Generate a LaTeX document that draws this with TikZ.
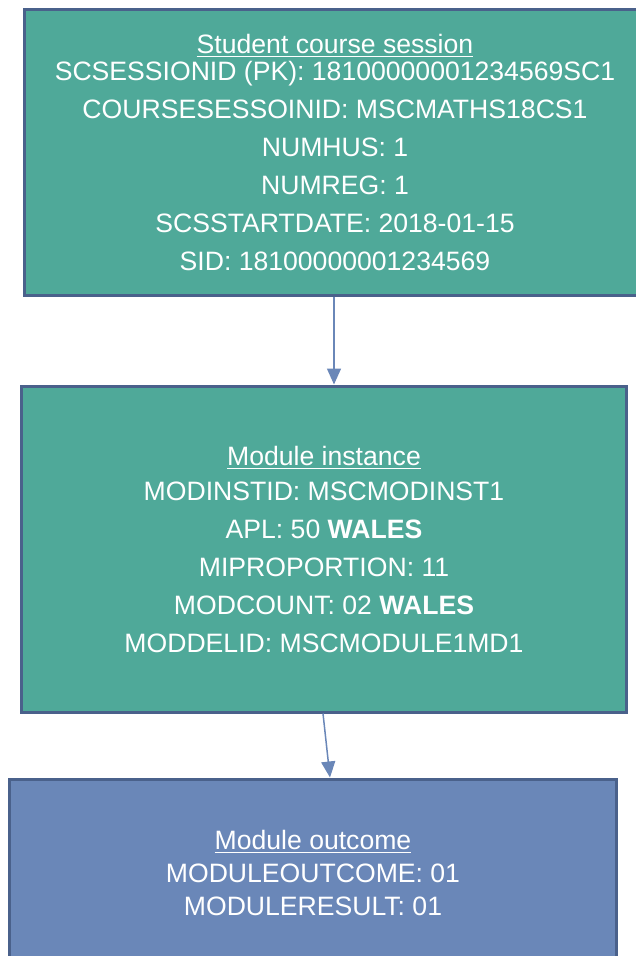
\documentclass[tikz,border=0pt]{standalone}
\usepackage{fontspec}
\setmainfont{Liberation Sans}
\usetikzlibrary{calc,arrows.meta}
\definecolor{tealbox}{RGB}{79,169,153}
\definecolor{bluebox}{RGB}{106,135,184}
\definecolor{edgeblue}{RGB}{74,97,139}

\begin{document}
\begin{tikzpicture}[x=0.5bp,y=-0.5bp,
    entity/.style={draw=edgeblue, line width=1.5bp, inner sep=0pt, text=white,
      align=center, font=\fontsize{13.3bp}{19bp}\selectfont},
    link/.style={bluebox, line width=0.75bp, -{Triangle[width=7bp,length=8bp]}}]
  \useasboundingbox (0,0) rectangle (636,956);
  \clip (0,0) rectangle (636,956);
  \node [entity, fill=tealbox, minimum width=310bp, minimum height=143bp] (session) at (335,152)
    {\underline{Student course session}\\[-5.5bp]
     SCSESSIONID (PK): 18100000001234569SC1\\
     COURSESESSOINID: MSCMATHS18CS1\\
     NUMHUS: 1\\
     NUMREG: 1\\
     SCSSTARTDATE: 2018-01-15\\
     SID: 18100000001234569};
  \node [entity, fill=tealbox, minimum width=302bp, minimum height=163bp] (instance) at (324,549)
    {\underline{Module instance}\\[-1.5bp]
     MODINSTID: MSCMODINST1\\
     APL: 50 \textbf{WALES}\\
     MIPROPORTION: 11\\
     MODCOUNT: 02 \textbf{WALES}\\
     MODDELID: MSCMODULE1MD1};
  \node [entity, fill=bluebox, minimum width=303bp, minimum height=94bp,
    font=\fontsize{13.3bp}{16.5bp}\selectfont] (outcome) at (313,873)
    {\underline{Module outcome}\\
     MODULEOUTCOME: 01\\
     MODULERESULT: 01};
  % connectors
  \draw [link] ($(session.south)+(-1,0)$) -- ($(instance.north)+(10,0)$);
  \draw [link] ($(instance.south)+(-1,0)$) -- ($(outcome.north)+(17,0)$);
\end{tikzpicture}
\end{document}
